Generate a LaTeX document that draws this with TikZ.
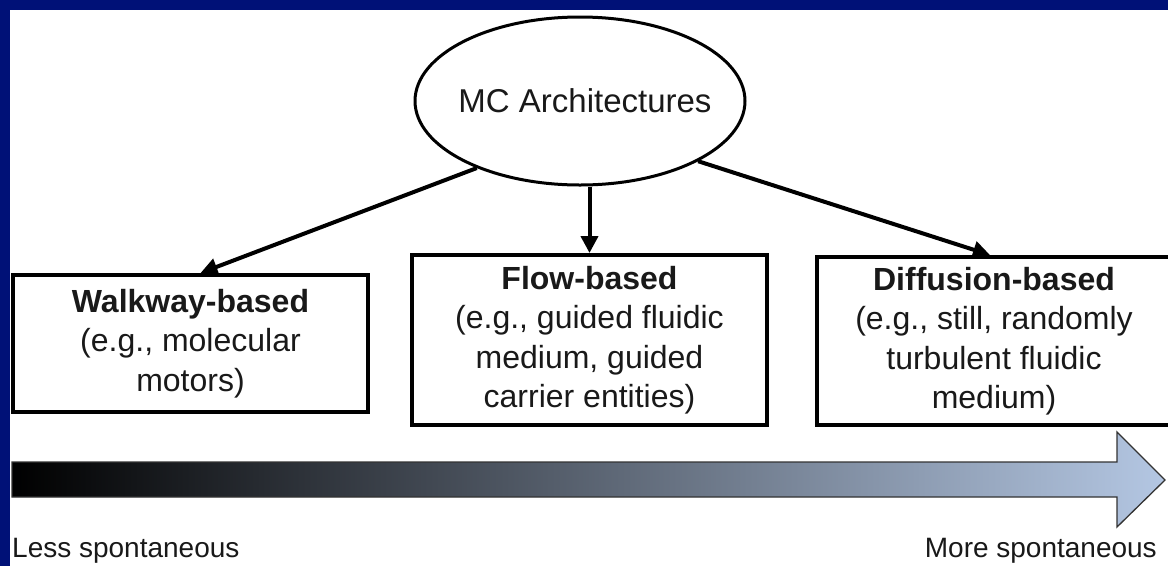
\documentclass[tikz,border=0pt]{standalone}
\usepackage{fontspec}
\setmainfont{Liberation Sans}
\usetikzlibrary{shapes.geometric,arrows.meta,calc}
\definecolor{framenavy}{RGB}{0,17,119}
\definecolor{arrowlight}{RGB}{180,199,227}
\definecolor{txt}{RGB}{25,25,25}
\begin{document}
\begin{tikzpicture}[x=1pt,y=-1pt,
  catbox/.style={draw=black,line width=4pt,fill=white,align=center,inner sep=0pt,
    font=\fontsize{32}{39.5}\selectfont,text=txt},
  conn/.style={line width=4pt,-{Triangle[length=17pt,width=17pt]}},
  sidelabel/.style={font=\fontsize{28}{34}\selectfont,text=txt,inner sep=0pt}
  ]
\useasboundingbox (0,0) rectangle (1168,566);
\fill[white] (0,0) rectangle (1168,566);
\fill[framenavy] (0,0) rectangle (1168,10);
\fill[framenavy] (0,0) rectangle (10,566);

% gradient arrow
\shadedraw[left color=black, right color=arrowlight, draw=black!80, line width=1.3pt, line join=miter]
  (12,462) -- (1117,462) -- (1117,432) -- (1165,480) -- (1117,527) -- (1117,497) -- (12,497) -- cycle;

\node[ellipse, draw, line width=3pt, fill=white, minimum width=330pt, minimum height=168pt,
  inner sep=0pt, font=\fontsize{33}{40}\selectfont, text=txt] (mc) at (580,101)
  {\makebox[0pt][c]{\hspace*{10pt}MC Architectures}};

\node[catbox, minimum width=355pt, minimum height=137pt] (walk) at (190.5,343.5)
  {\textbf{Walkway-based}\\(e.g., molecular\\motors)};
\node[catbox, minimum width=355pt, minimum height=170pt] (flow) at (589.5,340)
  {\textbf{Flow-based}\\(e.g., guided fluidic\\medium, guided\\carrier entities)};
\node[catbox, minimum width=354pt, minimum height=168pt] (diff) at (994,341)
  {\textbf{Diffusion-based}\\(e.g., still, randomly\\turbulent fluidic\\medium)};

\draw[conn] (mc.213) -- ([xshift=10pt]walk.north);
\draw[conn] (mc.south -| flow.north) -- (flow.north);
\draw[conn] (mc.-27) -- ([xshift=-4pt]diff.north);

\node[sidelabel, anchor=base west] (less) at (12,557) {Less spontaneous};
\node[sidelabel, anchor=base east] (more) at (1157,557) {More spontaneous};
\end{tikzpicture}
\end{document}
